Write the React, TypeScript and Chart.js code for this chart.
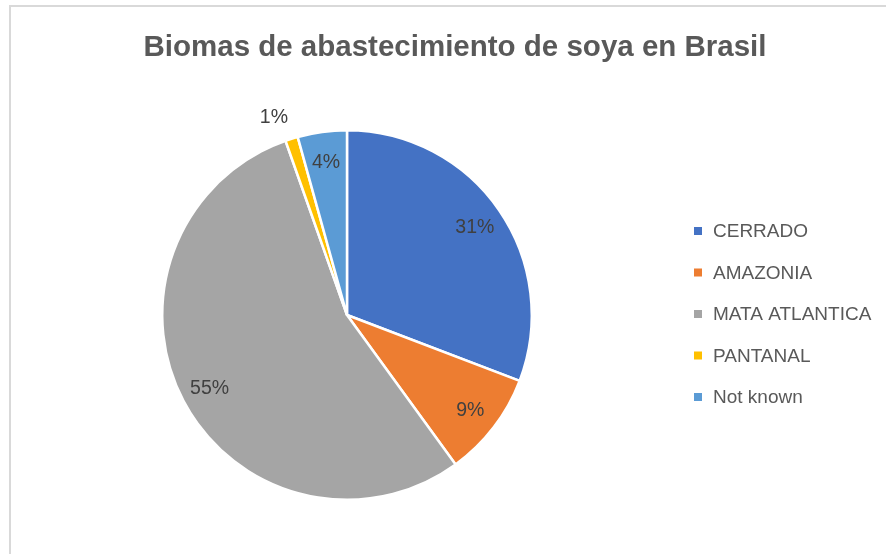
import React, { useEffect, useRef } from "react";
import { Chart, registerables } from "chart.js";

Chart.register(...registerables);

const titleText = "Biomas de abastecimiento de soya en Brasil";
const categories = ["CERRADO", "AMAZONIA", "MATA ATLANTICA", "PANTANAL", "Not known"];
const shares = [30.8, 9.2, 54.6, 1.1, 4.3];
const colors = ["#4472C4", "#ED7D31", "#A5A5A5", "#FFC000", "#5B9BD5"];

const FONT = "'Liberation Sans', Arial, sans-serif";

const decorPlugin = {
  id: "decor",
  afterDatasetsDraw(chart: any) {
    const ctx = chart.ctx;
    const meta = chart.getDatasetMeta(0);
    const values: number[] = chart.data.datasets[0].data;
    const total = values.reduce((a, b) => a + b, 0);
    ctx.save();
    // percentage labels
    ctx.font = `19.5px ${FONT}`;
    ctx.fillStyle = "#404040";
    meta.data.forEach((arc: any, i: number) => {
      const p = arc.getProps(["x", "y", "startAngle", "endAngle", "outerRadius"], true);
      const mid = (p.startAngle + p.endAngle) / 2;
      const pct = (values[i] / total) * 100;
      const txt = Math.round(pct) + "%";
      if (pct < 2) {
        const r = p.outerRadius + 12;
        const ax = p.x + Math.cos(mid) * r;
        const ay = p.y + Math.sin(mid) * r;
        ctx.textAlign = Math.cos(mid) < 0 ? "right" : "left";
        ctx.textBaseline = Math.sin(mid) < 0 ? "bottom" : "top";
        ctx.fillText(txt, ax, ay);
      } else {
        const r = p.outerRadius * 0.84;
        ctx.textAlign = "center";
        ctx.textBaseline = "middle";
        ctx.fillText(txt, p.x + Math.cos(mid) * r, p.y + Math.sin(mid) * r + 1);
      }
    });
    // title
    ctx.font = `bold 29.5px ${FONT}`;
    ctx.fillStyle = "#595959";
    ctx.textAlign = "center";
    ctx.textBaseline = "middle";
    ctx.fillText(titleText, 455, 48);
    // legend
    ctx.font = `19px ${FONT}`;
    ctx.textAlign = "left";
    chart.data.labels.forEach((lab: string, i: number) => {
      const y = 231 + i * 41.5;
      ctx.fillStyle = colors[i];
      ctx.fillRect(694, y - 4, 8, 8);
      ctx.fillStyle = "#595959";
      ctx.fillText(lab, 713, y + 1);
    });
    ctx.restore();
  },
};

export default function App() {
  const ref = useRef<HTMLCanvasElement | null>(null);
  useEffect(() => {
    if (!ref.current) return;
    const chart = new Chart(ref.current, {
      type: "pie",
      data: {
        labels: categories,
        datasets: [
          {
            data: shares,
            backgroundColor: colors,
            borderColor: "#ffffff",
            borderWidth: 2.5,
          },
        ],
      },
      options: {
        animation: false,
        responsive: false,
        maintainAspectRatio: false,
        layout: { padding: { left: 161, right: 353, top: 129, bottom: 53 } },
        plugins: {
          legend: { display: false },
          title: { display: false },
          tooltip: { enabled: false },
        },
      },
      plugins: [decorPlugin],
    });
    return () => chart.destroy();
  }, []);
  return (
    <div style={{ position: "fixed", left: 0, top: 0, width: 886, height: 554, overflow: "hidden", background: "#fff" }}>
      <div
        style={{
          position: "absolute",
          left: 9,
          top: 5,
          width: 1000,
          height: 1000,
          border: "2px solid #d9d9d9",
          boxSizing: "border-box",
        }}
      />
      <canvas ref={ref} width={886} height={554} style={{ position: "absolute", left: 0, top: 0, width: 886, height: 554 }} />
    </div>
  );
}
